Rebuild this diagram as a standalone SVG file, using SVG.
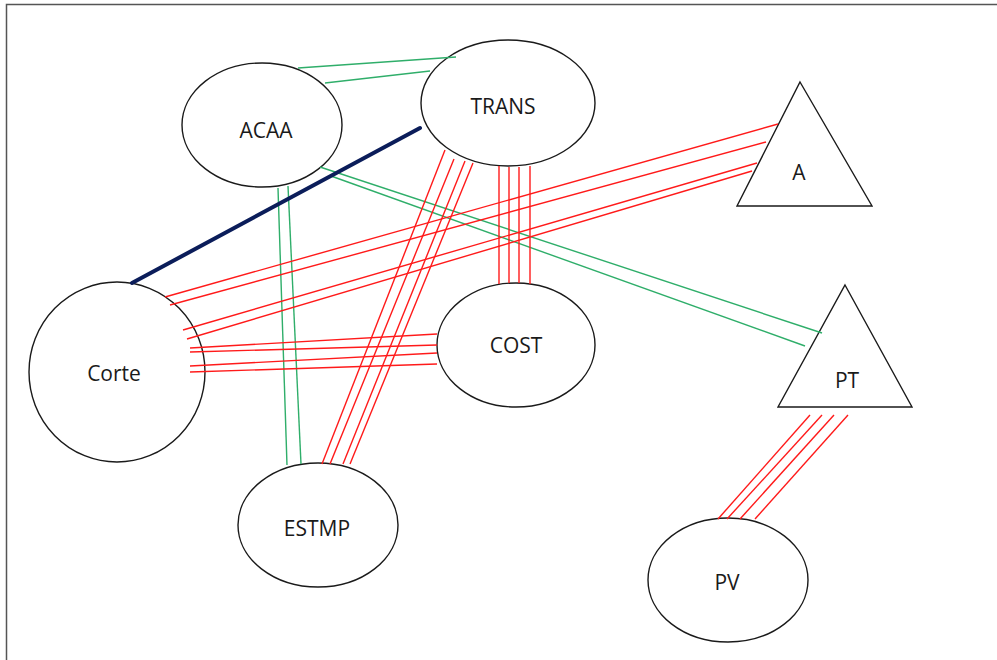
<svg xmlns="http://www.w3.org/2000/svg" width="997" height="660" viewBox="0 0 997 660">
  <style>
    .node { fill: #ffffff; stroke: #1a1a1a; stroke-width: 1.4; }
    .lbl { font-family: "Open Sans", "Liberation Sans", sans-serif; font-size: 21px; fill: #1a1a1a; text-anchor: middle; dominant-baseline: central; }
    .red { stroke: #ff1a1a; stroke-width: 1.4; fill: none; }
    .green { stroke: #2fae6a; stroke-width: 1.4; fill: none; }
    .navy { stroke: #0b1d5a; stroke-width: 4; fill: none; stroke-linecap: round; }
  </style>
  <rect width="997" height="660" fill="#ffffff"/>
  <path d="M6.5,660 V4.5 H997" fill="none" stroke="#555" stroke-width="1.5"/>

  <g id="node-acaa">
    <ellipse class="node" cx="262" cy="125" rx="80" ry="62"/>
    <text class="lbl" x="266" y="130">ACAA</text>
  </g>
  <g id="node-trans">
    <ellipse class="node" cx="508" cy="103" rx="87" ry="63"/>
    <text class="lbl" x="503" y="106">TRANS</text>
  </g>
  <g id="node-corte">
    <ellipse class="node" cx="117" cy="372" rx="88" ry="90"/>
    <text class="lbl" x="114" y="373">Corte</text>
  </g>
  <g id="node-cost">
    <ellipse class="node" cx="516" cy="345" rx="79" ry="62"/>
    <text class="lbl" x="516" y="345">COST</text>
  </g>
  <g id="node-estmp">
    <ellipse class="node" cx="318" cy="525" rx="80" ry="62"/>
    <text class="lbl" x="317" y="528">ESTMP</text>
  </g>
  <g id="node-pv">
    <ellipse class="node" cx="728" cy="580" rx="80" ry="62"/>
    <text class="lbl" x="727" y="582">PV</text>
  </g>
  <g id="node-a">
    <polygon class="node" points="800,82 872,206 737,206"/>
    <text class="lbl" x="799" y="172">A</text>
  </g>
  <g id="node-pt">
    <polygon class="node" points="845,285 912,407 778,407"/>
    <text class="lbl" x="847" y="380">PT</text>
  </g>

  <!-- links are drawn over the shapes so their ends overlap the outlines -->
  <g id="connectors">
    <!-- ACAA – TRANS -->
    <line class="green" x1="298" y1="68" x2="456" y2="57"/>
    <line class="green" x1="325" y1="83" x2="430" y2="71"/>
    <!-- ACAA – ESTMP -->
    <line class="green" x1="278" y1="188" x2="287" y2="465"/>
    <line class="green" x1="288" y1="186" x2="301" y2="464"/>
    <!-- ACAA – PT -->
    <line class="green" x1="320" y1="167" x2="822" y2="333"/>
    <line class="green" x1="331" y1="176" x2="805" y2="346"/>
    <!-- Corte – TRANS -->
    <line class="navy" x1="132" y1="283" x2="420" y2="128"/>
    <!-- Corte – A -->
    <line class="red" x1="165" y1="297" x2="778" y2="124"/>
    <line class="red" x1="170" y1="305" x2="766" y2="142"/>
    <line class="red" x1="183" y1="330" x2="757" y2="163"/>
    <line class="red" x1="187" y1="339" x2="752" y2="171"/>
    <!-- Corte – COST -->
    <line class="red" x1="190" y1="348" x2="437" y2="334"/>
    <line class="red" x1="190" y1="352" x2="437" y2="345"/>
    <line class="red" x1="190" y1="366" x2="437" y2="353"/>
    <line class="red" x1="190" y1="372" x2="437" y2="364"/>
    <!-- TRANS – COST -->
    <line class="red" x1="499" y1="166" x2="499" y2="284"/>
    <line class="red" x1="509" y1="167" x2="509" y2="283"/>
    <line class="red" x1="519" y1="167" x2="519" y2="283"/>
    <line class="red" x1="530" y1="166" x2="530" y2="284"/>
    <!-- TRANS – ESTMP -->
    <line class="red" x1="445" y1="150" x2="322" y2="464"/>
    <line class="red" x1="454" y1="159" x2="330" y2="464"/>
    <line class="red" x1="465" y1="161" x2="343" y2="464"/>
    <line class="red" x1="473" y1="163" x2="350" y2="464"/>
    <!-- PT – PV -->
    <line class="red" x1="810" y1="415" x2="718" y2="519"/>
    <line class="red" x1="822" y1="415" x2="727" y2="519"/>
    <line class="red" x1="834" y1="415" x2="740" y2="519"/>
    <line class="red" x1="848" y1="415" x2="755" y2="519"/>
  </g>
</svg>
